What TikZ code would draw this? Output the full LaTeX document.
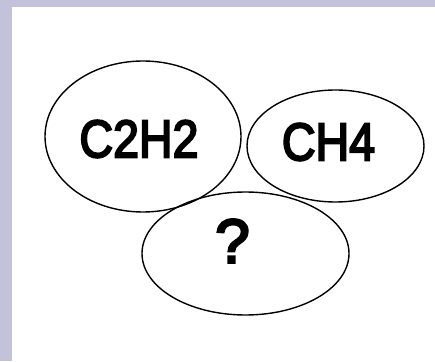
\documentclass[tikz,border=0pt]{standalone}
\usepackage{fontspec}
\setmainfont{Liberation Sans}[FakeBold=4]
\definecolor{frame}{RGB}{194,194,218}
\begin{document}
\begin{tikzpicture}[x=1pt,y=1pt,
  blob/.style={line width=1.4pt},
  lbl/.style={inner sep=0pt, font=\fontsize{49}{49}\selectfont}]
\useasboundingbox (0,0) rectangle (435,361);
\fill[frame] (0,0) rectangle (435,361);
\fill[white] (12,0) rectangle (435,353.5);
% ellipses (pixel coords, y flipped)
\draw[blob] (143,224.5) ellipse [x radius=98, y radius=75.5];
\draw[blob] (335.5,215) ellipse [x radius=88.5, y radius=56];
\draw[blob] (245.5,107.5) ellipse [x radius=103.5, y radius=61.5];
\node[lbl] (a) at (139,222) {\scalebox{0.95}[1.08]{C2H2}};
\node[lbl] (b) at (328.5,219) {\scalebox{0.95}[1.08]{CH4}};
\node[lbl, font=\fontsize{62}{62}\selectfont] (c) at (232.5,120) {?};
\end{tikzpicture}
\end{document}
